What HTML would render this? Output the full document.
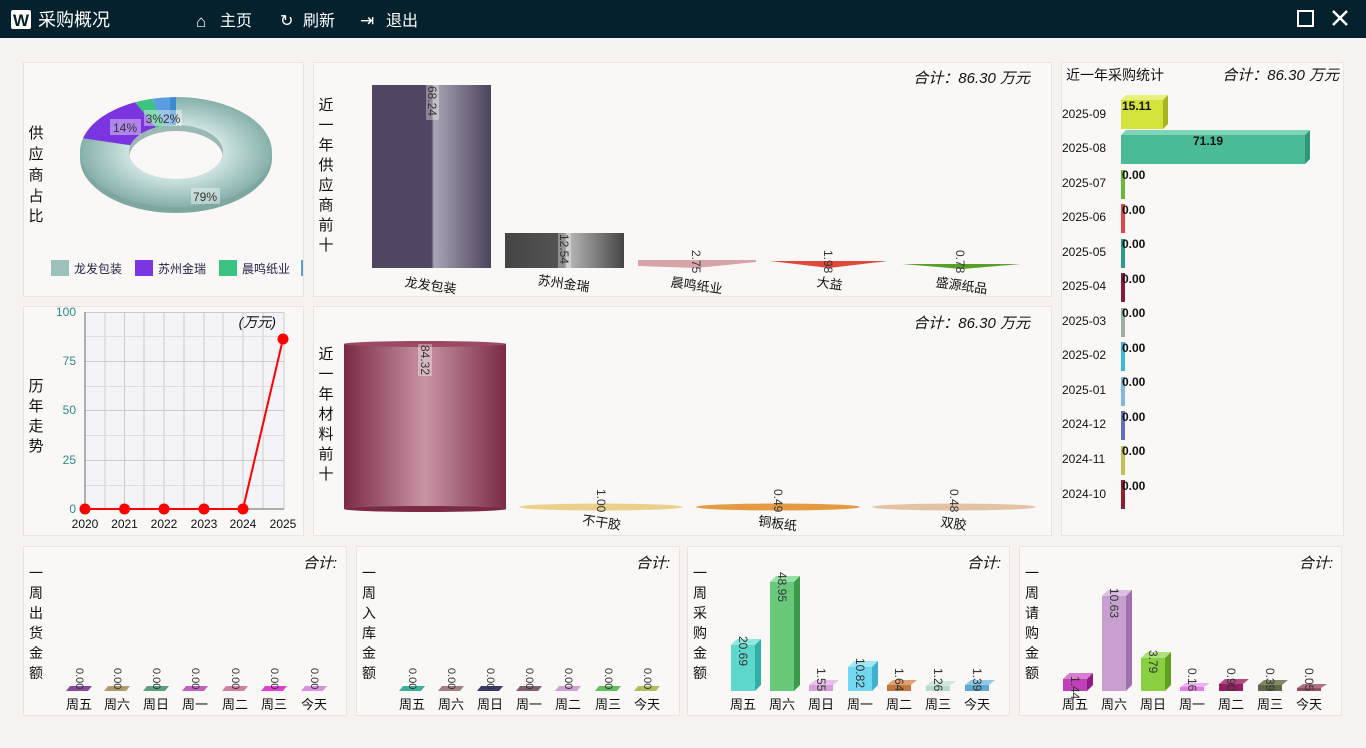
<!DOCTYPE html>
<html><head><meta charset="utf-8"><style>
body{margin:0;width:1366px;height:748px;overflow:hidden;background:#f5f2ef;font-family:"Liberation Sans","Noto Sans CJK SC",sans-serif}
svg{display:block}
text{font-family:"Liberation Sans","Noto Sans CJK SC",sans-serif}
</style></head><body>
<svg width="1366" height="748" viewBox="0 0 1366 748" xmlns="http://www.w3.org/2000/svg">
<defs>
<linearGradient id="gP" x1="0" x2="1"><stop offset="0" stop-color="#514661"/><stop offset=".5" stop-color="#514661"/><stop offset=".52" stop-color="#aaa4b4"/><stop offset="1" stop-color="#4c435c"/></linearGradient>
<linearGradient id="gG" x1="0" x2="1"><stop offset="0" stop-color="#444"/><stop offset=".5" stop-color="#555"/><stop offset=".52" stop-color="#bbb"/><stop offset="1" stop-color="#444"/></linearGradient>
<linearGradient id="gM" x1="0" x2="1"><stop offset="0" stop-color="#7a2a45"/><stop offset=".5" stop-color="#c894a4"/><stop offset="1" stop-color="#7a2a45"/></linearGradient>
<radialGradient id="gT" cx=".5" cy=".5" r=".5"><stop offset=".5" stop-color="#cde3e0"/><stop offset="1" stop-color="#86b0ab"/></radialGradient>
</defs>
<rect x="0" y="0" width="1366" height="38" fill="#04212d"/>
<rect x="11" y="10" width="20" height="19" rx="2" fill="#fff"/><text x="21" y="26" font-size="17" font-weight="bold" fill="#04212d" text-anchor="middle">W</text>
<text x="38" y="26" font-size="18" fill="#fff">采购概况</text>
<text x="196" y="27" font-size="17" fill="#fff">⌂</text><text x="220" y="26" font-size="16" fill="#fff">主页</text>
<text x="280" y="26" font-size="16" fill="#fff">↻</text><text x="303" y="26" font-size="16" fill="#fff">刷新</text>
<text x="360" y="26" font-size="17" fill="#fff">⇥</text><text x="386" y="26" font-size="16" fill="#fff">退出</text>
<rect x="1298" y="11" width="15" height="15" fill="none" stroke="#fff" stroke-width="2"/>
<path d="M1333 11 L1347 25 M1347 11 L1333 25" stroke="#fff" stroke-width="2.5"/>

<g fill="#faf8f7" stroke="#eee2dc">
<rect x="23.5" y="62.5" width="280" height="234"/>
<rect x="313.5" y="62.5" width="738" height="234"/>
<rect x="1061.5" y="62.5" width="282" height="473"/>
<rect x="23.5" y="306.5" width="280" height="229"/>
<rect x="313.5" y="306.5" width="738" height="229"/>
<rect x="23.5" y="546.5" width="323" height="169"/>
<rect x="356.5" y="546.5" width="323" height="169"/>
<rect x="687.5" y="546.5" width="322" height="169"/>
<rect x="1019.5" y="546.5" width="322" height="169"/>
</g>

<g font-size="15" fill="#111" text-anchor="middle">
<text x="36" y="138">供</text><text x="36" y="159">应</text><text x="36" y="180">商</text><text x="36" y="201">占</text><text x="36" y="221">比</text>
<text x="326" y="110">近</text><text x="326" y="130">一</text><text x="326" y="150">年</text><text x="326" y="170">供</text><text x="326" y="190">应</text><text x="326" y="210">商</text><text x="326" y="230">前</text><text x="326" y="250">十</text>
<text x="326" y="359">近</text><text x="326" y="379">一</text><text x="326" y="399">年</text><text x="326" y="419">材</text><text x="326" y="439">料</text><text x="326" y="459">前</text><text x="326" y="479">十</text>
<text x="36" y="391">历</text><text x="36" y="411">年</text><text x="36" y="431">走</text><text x="36" y="451">势</text>
</g>
<g font-size="14" fill="#111" text-anchor="middle">
<text x="36" y="578">一</text><text x="36" y="598">周</text><text x="36" y="618">出</text><text x="36" y="638">货</text><text x="36" y="658">金</text><text x="36" y="678">额</text>
<text x="369" y="578">一</text><text x="369" y="598">周</text><text x="369" y="618">入</text><text x="369" y="638">库</text><text x="369" y="658">金</text><text x="369" y="678">额</text>
<text x="700" y="578">一</text><text x="700" y="598">周</text><text x="700" y="618">采</text><text x="700" y="638">购</text><text x="700" y="658">金</text><text x="700" y="678">额</text>
<text x="1032" y="578">一</text><text x="1032" y="598">周</text><text x="1032" y="618">请</text><text x="1032" y="638">购</text><text x="1032" y="658">金</text><text x="1032" y="678">额</text>
</g>

<!-- donut -->
<ellipse cx="176" cy="158" rx="96" ry="55" fill="#7fa7a2"/>
<path d="M176,97 A96,55 0 1 1 83,138.3 L130.5,145.3 A47,27 0 1 0 176,125 Z" fill="url(#gT)"/>
<path d="M83,138.3 A96,55 0 0 1 135.1,102.2 L156,127.6 A47,27 0 0 0 130.5,145.3 Z" fill="#7a35e0"/>
<path d="M135.1,102.2 A96,55 0 0 1 152.1,98.7 L164.3,125.8 A47,27 0 0 0 156,127.6 Z" fill="#3cc384"/>
<path d="M152.1,98.7 A96,55 0 0 1 170,97.2 L170.1,125.2 A47,27 0 0 0 164.3,125.8 Z" fill="#5a9ee0"/>
<path d="M170,97.2 A96,55 0 0 1 176,97 L176,125 A47,27 0 0 0 170.1,125.2 Z" fill="#3a8ad0"/>
<ellipse cx="176" cy="152" rx="47" ry="27" fill="#faf8f7"/>
<path d="M129,152 A47,27 0 0 1 223,152 L223,158 A47,27 0 0 0 129,158Z" fill="#9ab8b4"/>
<g font-size="12" fill="#333" text-anchor="middle">
<rect x="110" y="119" width="31" height="16" fill="#fff" opacity=".4"/><text x="125" y="132">14%</text>
<rect x="144" y="110" width="38" height="16" fill="#fff" opacity=".4"/><text x="163" y="123">3%2%</text>
<rect x="191" y="188" width="29" height="16" fill="#fff" opacity=".4"/><text x="205" y="201">79%</text>
</g>
<rect x="51" y="260" width="18" height="16" fill="#9cc1bc"/><text x="74" y="273" font-size="12" fill="#224">龙发包装</text>
<rect x="135" y="260" width="18" height="16" fill="#7a35e0"/><text x="158" y="273" font-size="12" fill="#224">苏州金瑞</text>
<rect x="219" y="260" width="18" height="16" fill="#3cc384"/><text x="242" y="273" font-size="12" fill="#224">晨鸣纸业</text>
<rect x="301" y="260" width="2" height="16" fill="#5a9ee0"/>

<!-- top bar -->
<text x="1030" y="83" font-size="15" font-style="italic" text-anchor="end" fill="#111">合计：86.30 万元</text>
<rect x="372" y="85" width="119" height="183" fill="url(#gP)"/>
<rect x="505" y="233" width="119" height="35" fill="url(#gG)"/>
<polygon points="638,260 756,260 756,262 697,268 638,266" fill="#d7a4a8"/>
<polygon points="770,261 888,261 829,268" fill="#e0483a"/>
<polygon points="902,264 1021,264 962,269" fill="#5aa028"/>
<g font-size="12" fill="#333">
<rect x="426" y="85" width="13" height="35" fill="#fff" opacity=".35"/><text transform="translate(428,86) rotate(90)">68.24</text>
<rect x="558" y="233" width="13" height="35" fill="#fff" opacity=".35"/><text transform="translate(560,234) rotate(90)">12.54</text>
<text transform="translate(692,250) rotate(90)">2.75</text>
<text transform="translate(824,250) rotate(90)">1.98</text>
<text transform="translate(956,250) rotate(90)">0.78</text>
</g>
<g font-size="13" fill="#111" text-anchor="middle">
<text transform="translate(430,290) rotate(8)">龙发包装</text>
<text transform="translate(563,288) rotate(8)">苏州金瑞</text>
<text transform="translate(696,290) rotate(8)">晨鸣纸业</text>
<text transform="translate(829,288) rotate(8)">大益</text>
<text transform="translate(961,290) rotate(8)">盛源纸品</text>
</g>

<!-- mid bar -->
<text x="1030" y="328" font-size="15" font-style="italic" text-anchor="end" fill="#111">合计：86.30 万元</text>
<rect x="344" y="344" width="162" height="165" fill="url(#gM)"/>
<ellipse cx="425" cy="344" rx="81" ry="3" fill="#9a4a62"/>
<ellipse cx="425" cy="509" rx="81" ry="3" fill="#7a2a45"/>
<ellipse cx="601" cy="507" rx="82" ry="3.5" fill="#ead08a"/>
<ellipse cx="778" cy="507" rx="82" ry="3.5" fill="#e49a40"/>
<ellipse cx="954" cy="507" rx="82" ry="3.5" fill="#e2c4a4"/>
<g font-size="12" fill="#333">
<rect x="418" y="344" width="14" height="32" fill="#fff" opacity=".35"/><text transform="translate(421,345) rotate(90)">84.32</text>
<text transform="translate(597,489) rotate(90)">1.00</text>
<text transform="translate(774,489) rotate(90)">0.49</text>
<text transform="translate(950,489) rotate(90)">0.48</text>
</g>
<g font-size="13" fill="#111" text-anchor="middle">
<text transform="translate(601,527) rotate(8)">不干胶</text>
<text transform="translate(777,528) rotate(8)">铜板纸</text>
<text transform="translate(953,528) rotate(8)">双胶</text>
</g>

<!-- line chart -->
<rect x="85" y="312" width="199" height="197" fill="#f4f4f8"/>
<g stroke="#ccc" stroke-width="1">
<path d="M85 361.5H284M85 410.5H284M85 460.5H284M85 312.5H284"/>
<path d="M105 312V509M124.5 312V509M144 312V509M164 312V509M184 312V509M204 312V509M223 312V509M243 312V509M263 312V509M284 312V509"/>
<path d="M85 336.5H284M85 386.5H284M85 435.5H284M85 485.5H284" stroke="#ddd"/>
</g>
<path d="M85 312V509H284" stroke="#666" fill="none"/>
<g font-size="12" fill="#2a8a8a" text-anchor="end">
<text x="76" y="316">100</text><text x="76" y="365">75</text><text x="76" y="414">50</text><text x="76" y="464">25</text><text x="76" y="513">0</text>
</g>
<g font-size="12" fill="#111" text-anchor="middle">
<text x="85" y="528">2020</text><text x="124.5" y="528">2021</text><text x="164" y="528">2022</text><text x="204" y="528">2023</text><text x="243" y="528">2024</text><text x="283" y="528">2025</text>
</g>
<text x="276" y="327" font-size="14" font-style="italic" text-anchor="end" fill="#111">(万元)</text>
<polyline points="85,509 124.5,509 164,509 204,509 243,509 283,339" fill="none" stroke="#f00" stroke-width="2"/>
<g fill="#f00"><circle cx="85" cy="509" r="5.5"/><circle cx="124.5" cy="509" r="5.5"/><circle cx="164" cy="509" r="5.5"/><circle cx="204" cy="509" r="5.5"/><circle cx="243" cy="509" r="5.5"/><circle cx="283" cy="339" r="5.5"/></g>

<!-- right chart -->
<text x="1066" y="80" font-size="14" fill="#111">近一年采购统计</text>
<text x="1339" y="80" font-size="15" font-style="italic" text-anchor="end" fill="#111">合计：86.30 万元</text>
<g font-size="12" fill="#111">
<text x="1062" y="118">2025-09</text><text x="1062" y="152">2025-08</text><text x="1062" y="187">2025-07</text><text x="1062" y="221">2025-06</text><text x="1062" y="256">2025-05</text><text x="1062" y="290">2025-04</text><text x="1062" y="325">2025-03</text><text x="1062" y="359">2025-02</text><text x="1062" y="394">2025-01</text><text x="1062" y="428">2024-12</text><text x="1062" y="463">2024-11</text><text x="1062" y="498">2024-10</text>
</g>
<polygon points="1121,100 1126,95 1168,95 1163,100" fill="#e6f07a"/><rect x="1121" y="100" width="42" height="29" fill="#d4e23c"/><polygon points="1163,100 1168,95 1168,124 1163,129" fill="#a8b420"/>
<polygon points="1121,135 1126,130 1310,130 1305,135" fill="#7ed4b8"/><rect x="1121" y="135" width="184" height="29" fill="#4aba98"/><polygon points="1305,135 1310,130 1310,159 1305,164" fill="#2e9878"/>
<g>
<rect x="1121" y="170" width="4" height="29" fill="#6ab83a"/>
<rect x="1121" y="204" width="4" height="29" fill="#e04848"/>
<rect x="1121" y="239" width="4" height="29" fill="#2a9a8a"/>
<rect x="1121" y="273" width="4" height="29" fill="#8a1a3a"/>
<rect x="1121" y="308" width="4" height="29" fill="#9ab0a0"/>
<rect x="1121" y="342" width="4" height="29" fill="#3ab8d8"/>
<rect x="1121" y="377" width="4" height="29" fill="#80b8e0"/>
<rect x="1121" y="411" width="4" height="29" fill="#6070c0"/>
<rect x="1121" y="446" width="4" height="29" fill="#c0c050"/>
<rect x="1121" y="480" width="4" height="29" fill="#902030"/>
</g>
<g font-size="12" font-weight="bold" fill="#111">
<text x="1122" y="110">15.11</text><text x="1193" y="145">71.19</text>
<text x="1122" y="179">0.00</text><text x="1122" y="214">0.00</text><text x="1122" y="248">0.00</text><text x="1122" y="283">0.00</text><text x="1122" y="317">0.00</text><text x="1122" y="352">0.00</text><text x="1122" y="386">0.00</text><text x="1122" y="421">0.00</text><text x="1122" y="455">0.00</text><text x="1122" y="490">0.00</text>
</g>

<!-- bottom charts -->
<g font-size="15" font-style="italic" fill="#111" text-anchor="end">
<text x="337" y="568">合计:</text><text x="670" y="568">合计:</text><text x="1001" y="568">合计:</text><text x="1333" y="568">合计:</text>
</g>
<g font-size="13" fill="#111" text-anchor="middle">
<text x="79" y="709">周五</text><text x="117" y="709">周六</text><text x="156" y="709">周日</text><text x="195" y="709">周一</text><text x="235" y="709">周二</text><text x="274" y="709">周三</text><text x="314" y="709">今天</text>
<text x="412" y="709">周五</text><text x="451" y="709">周六</text><text x="490" y="709">周日</text><text x="529" y="709">周一</text><text x="568" y="709">周二</text><text x="608" y="709">周三</text><text x="647" y="709">今天</text>
<text x="743" y="709">周五</text><text x="782" y="709">周六</text><text x="821" y="709">周日</text><text x="860" y="709">周一</text><text x="899" y="709">周二</text><text x="938" y="709">周三</text><text x="977" y="709">今天</text>
<text x="1075" y="709">周五</text><text x="1114" y="709">周六</text><text x="1153" y="709">周日</text><text x="1192" y="709">周一</text><text x="1231" y="709">周二</text><text x="1270" y="709">周三</text><text x="1309" y="709">今天</text>
</g>
<!-- chart1/2 tiny bars -->
<g>
<polygon points="66,691 70,686 92,686 88,691" fill="#8a4a9a"/>
<polygon points="104,691 108,686 130,686 126,691" fill="#b09a6a"/>
<polygon points="143,691 147,686 169,686 165,691" fill="#5aa07a"/>
<polygon points="182,691 186,686 208,686 204,691" fill="#c060c0"/>
<polygon points="222,691 226,686 248,686 244,691" fill="#d080a0"/>
<polygon points="261,691 265,686 287,686 283,691" fill="#e040d0"/>
<polygon points="301,691 305,686 327,686 323,691" fill="#d890e0"/>
<polygon points="399,691 403,686 425,686 421,691" fill="#3ab0a0"/>
<polygon points="438,691 442,686 464,686 460,691" fill="#a08080"/>
<polygon points="477,691 481,686 503,686 499,691" fill="#3a3a6a"/>
<polygon points="516,691 520,686 542,686 538,691" fill="#806070"/>
<polygon points="555,691 559,686 581,686 577,691" fill="#d0a0d0"/>
<polygon points="595,691 599,686 621,686 617,691" fill="#60c060"/>
<polygon points="634,691 638,686 660,686 656,691" fill="#b0c060"/>
</g>
<g font-size="11" fill="#333">
<text transform="translate(76,668) rotate(90)">0.00</text><text transform="translate(114,668) rotate(90)">0.00</text><text transform="translate(153,668) rotate(90)">0.00</text><text transform="translate(192,668) rotate(90)">0.00</text><text transform="translate(232,668) rotate(90)">0.00</text><text transform="translate(271,668) rotate(90)">0.00</text><text transform="translate(311,668) rotate(90)">0.00</text>
<text transform="translate(409,668) rotate(90)">0.00</text><text transform="translate(448,668) rotate(90)">0.00</text><text transform="translate(487,668) rotate(90)">0.00</text><text transform="translate(526,668) rotate(90)">0.00</text><text transform="translate(565,668) rotate(90)">0.00</text><text transform="translate(605,668) rotate(90)">0.00</text><text transform="translate(644,668) rotate(90)">0.00</text>
</g>
<!-- chart3 -->
<g>
<rect x="731" y="645" width="24" height="46" fill="#5ed8cc"/><polygon points="731,645 737,639 761,639 755,645" fill="#8ee8e0"/><polygon points="755,645 761,639 761,685 755,691" fill="#30b0a4"/>
<rect x="770" y="582" width="24" height="109" fill="#6ac87a"/><polygon points="770,582 776,576 800,576 794,582" fill="#98e0a4"/><polygon points="794,582 800,576 800,685 794,691" fill="#3a9a4a"/>
<rect x="809" y="685" width="24" height="6" fill="#d8a0d8"/><polygon points="809,685 815,680 839,680 833,685" fill="#e8c0e8"/>
<rect x="848" y="667" width="24" height="24" fill="#70d8f0"/><polygon points="848,667 854,661 878,661 872,667" fill="#a0e8f8"/><polygon points="872,667 878,661 878,685 872,691" fill="#40b0d0"/>
<rect x="887" y="685" width="24" height="6" fill="#c07840"/><polygon points="887,685 893,680 917,680 911,685" fill="#e0a070"/>
<rect x="926" y="686" width="24" height="5" fill="#b8dcc8"/><polygon points="926,686 932,681 956,681 950,686" fill="#d0e8dc"/>
<rect x="965" y="685" width="24" height="6" fill="#60a8d0"/><polygon points="965,685 971,680 995,680 989,685" fill="#90c8e8"/>
</g>
<g font-size="12" fill="#333">
<text transform="translate(739,636) rotate(90)">20.69</text><text transform="translate(778,572) rotate(90)">48.95</text><text transform="translate(817,668) rotate(90)">1.55</text><text transform="translate(856,658) rotate(90)">10.82</text><text transform="translate(895,668) rotate(90)">1.64</text><text transform="translate(934,668) rotate(90)">1.26</text><text transform="translate(973,668) rotate(90)">1.39</text>
</g>
<!-- chart4 -->
<g>
<rect x="1063" y="679" width="24" height="12" fill="#c040b8"/><polygon points="1063,679 1069,673 1093,673 1087,679" fill="#d880d0"/><polygon points="1087,679 1093,673 1093,685 1087,691" fill="#901888"/>
<rect x="1102" y="596" width="24" height="95" fill="#c8a0d0"/><polygon points="1102,596 1108,590 1132,590 1126,596" fill="#dcc0e4"/><polygon points="1126,596 1132,590 1132,685 1126,691" fill="#a070b0"/>
<rect x="1141" y="658" width="24" height="33" fill="#88d040"/><polygon points="1141,658 1147,652 1171,652 1165,658" fill="#b0e080"/><polygon points="1165,658 1171,652 1171,685 1165,691" fill="#60a020"/>
<rect x="1180" y="687" width="24" height="4" fill="#e080e0"/><polygon points="1180,687 1186,683 1210,683 1204,687" fill="#f0b0f0"/>
<rect x="1219" y="684" width="24" height="7" fill="#902060"/><polygon points="1219,684 1225,679 1249,679 1243,684" fill="#b04a80"/>
<rect x="1258" y="685" width="24" height="6" fill="#606848"/><polygon points="1258,685 1264,680 1288,680 1282,685" fill="#808868"/>
<rect x="1297" y="688" width="24" height="3" fill="#905060"/><polygon points="1297,688 1303,684 1327,684 1321,688" fill="#b07080"/>
</g>
<g font-size="12" fill="#333">
<text transform="translate(1071,676) rotate(90)">1.44</text><text transform="translate(1110,588) rotate(90)">10.63</text><text transform="translate(1149,650) rotate(90)">3.79</text><text transform="translate(1188,668) rotate(90)">0.16</text><text transform="translate(1227,668) rotate(90)">0.90</text><text transform="translate(1266,668) rotate(90)">0.39</text><text transform="translate(1305,668) rotate(90)">0.05</text>
</g>
</svg>
</body></html>
